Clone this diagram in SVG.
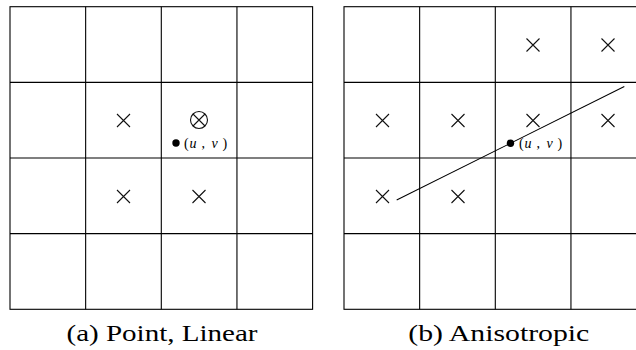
<svg xmlns="http://www.w3.org/2000/svg" width="636" height="350" viewBox="0 0 636 350">
  <style>
    .grid { fill: none; stroke: #000; stroke-width: 1.1; }
    .mark { fill: none; stroke: #111; stroke-width: 1.1; }
    .dot { fill: #000; }
    .uv { font-family: "Liberation Serif", "Times New Roman", serif; font-size: 14px; fill: #000; }
    .uv .i { font-style: italic; }
    .cap { font-family: "Liberation Serif", "Times New Roman", serif; font-size: 23px; fill: #000; }
  </style>
  <defs>
    <!-- texel sample marker -->
    <path id="x" class="mark" d="M-6.5,-6.5 L6.5,6.5 M-6.5,6.5 L6.5,-6.5"/>
  </defs>

  <!-- (a) point / linear filtering -->
  <g id="panel-a">
    <g id="grid-a" class="grid">
      <rect x="10" y="6.7" width="302.6" height="302.6"/>
      <path d="M85.65,6.7 V309.3 M161.3,6.7 V309.3 M236.95,6.7 V309.3 M10,82.35 H312.6 M10,158 H312.6 M10,233.65 H312.6"/>
    </g>
    <g id="texels-a">
      <use href="#x" x="123.5" y="120.5"/>
      <use href="#x" x="123.5" y="196.5"/>
      <use href="#x" x="199" y="196.5"/>
    </g>
    <g id="nearest-a">
      <circle class="mark" cx="199" cy="120" r="8.5"/>
      <path class="mark" d="M193,114 L205,126 M193,126 L205,114"/>
    </g>
    <g id="sample-a">
      <circle class="dot" cx="176" cy="143" r="3.7"/>
      <text class="uv" y="147.5"><tspan x="184">(</tspan><tspan class="i" x="189.5">u</tspan><tspan x="201.5">,</tspan><tspan class="i" x="211.5">v</tspan><tspan x="222.5">)</tspan></text>
    </g>
    <text id="caption-a" class="cap" x="66.5" y="341" textLength="191" lengthAdjust="spacingAndGlyphs">(a) Point, Linear</text>
  </g>

  <!-- (b) anisotropic filtering -->
  <g id="panel-b">
    <g id="grid-b" class="grid">
      <rect x="344" y="6.7" width="302.6" height="302.6"/>
      <path d="M419.65,6.7 V309.3 M495.3,6.7 V309.3 M570.95,6.7 V309.3 M344,82.35 H646.6 M344,158 H646.6 M344,233.65 H646.6"/>
    </g>
    <g id="texels-b">
      <use href="#x" x="533" y="45"/>
      <use href="#x" x="608" y="45"/>
      <use href="#x" x="382.5" y="120.5"/>
      <use href="#x" x="458" y="120.5"/>
      <use href="#x" x="533" y="120.5"/>
      <use href="#x" x="608" y="120.5"/>
      <use href="#x" x="382.5" y="196.5"/>
      <use href="#x" x="458" y="196.5"/>
    </g>
    <g id="connectors">
      <line class="grid" x1="396.7" y1="200" x2="624.3" y2="86.5"/>
    </g>
    <g id="sample-b">
      <circle class="dot" cx="510.5" cy="143.3" r="3.7"/>
      <text class="uv" y="147.5"><tspan x="519">(</tspan><tspan class="i" x="524.5">u</tspan><tspan x="536.5">,</tspan><tspan class="i" x="546.5">v</tspan><tspan x="557.5">)</tspan></text>
    </g>
    <text id="caption-b" class="cap" x="408.3" y="341" textLength="181" lengthAdjust="spacingAndGlyphs">(b) Anisotropic</text>
  </g>
</svg>
